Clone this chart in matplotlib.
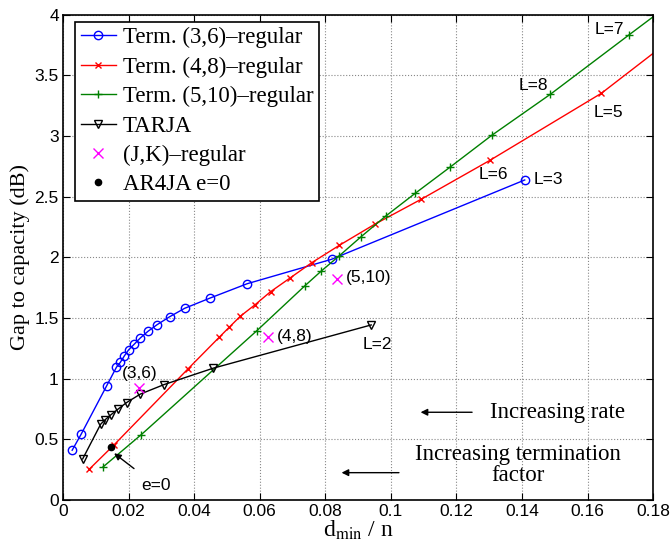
#!/usr/bin/env python3
"""Gap to capacity vs. normalized minimum distance for terminated LDPC ensembles."""

import matplotlib
matplotlib.use("Agg")
import matplotlib.pyplot as plt

# Terminated (3,6)-regular
x36 = [0.0028, 0.0055, 0.0133, 0.0163, 0.0175, 0.0187, 0.0200, 0.0218, 0.0236,
       0.0259, 0.0287, 0.0325, 0.0371, 0.0449, 0.0562, 0.0819, 0.1408]
y36 = [0.41, 0.54, 0.94, 1.094, 1.135, 1.187, 1.237, 1.286, 1.336,
       1.39, 1.445, 1.51, 1.58, 1.665, 1.783, 1.984, 2.638]

# Terminated (4,8)-regular (last point lies outside the axes)
x48 = [0.0080, 0.0155, 0.0381, 0.0476, 0.0507, 0.0541, 0.0586, 0.0633, 0.0691,
       0.0758, 0.0842, 0.0950, 0.1093, 0.1302, 0.1642, 0.2000]
y48 = [0.253, 0.452, 1.08, 1.34, 1.424, 1.515, 1.61, 1.717, 1.827,
       1.955, 2.098, 2.272, 2.48, 2.80, 3.353, 4.10]

# Terminated (5,10)-regular (last point lies outside the axes)
x510 = [0.0122, 0.0239, 0.0591, 0.0737, 0.0788, 0.0843, 0.0909, 0.0984, 0.1074,
        0.1181, 0.1308, 0.1486, 0.1726, 0.2000]
y510 = [0.272, 0.539, 1.395, 1.764, 1.888, 2.014, 2.17, 2.34, 2.528,
        2.745, 3.007, 3.344, 3.834, 4.39]

# TARJA
xtarja = [0.0060, 0.0115, 0.0128, 0.0146, 0.0168, 0.0194, 0.0236, 0.0308, 0.0459, 0.0940]
ytarja = [0.338, 0.625, 0.66, 0.702, 0.749, 0.803, 0.873, 0.951, 1.087, 1.443]

# (J,K)-regular block codes
xjk = [0.0232, 0.0626, 0.0836]
yjk = [0.92, 1.341, 1.82]
jk_labels = ["(3,6)", "(4,8)", "(5,10)"]

# AR4JA e=0
xar4ja = [0.0146]
yar4ja = [0.434]

plt.rcParams["mathtext.fontset"] = "stix"
serif = "Liberation Serif"
sans = "Liberation Sans"

fig = plt.figure(figsize=(6.70, 5.47), dpi=100)
ax = fig.add_axes([0.094, 0.086, 0.881, 0.887])

ax.plot(x36, y36, color="blue", marker="o", markersize=6, markerfacecolor="none",
        linewidth=1, label="Term. (3,6)\u2013regular")
ax.plot(x48, y48, color="red", marker="x", markersize=4.5, linewidth=1,
        label="Term. (4,8)\u2013regular")
ax.plot(x510, y510, color="green", marker="+", markersize=6, linewidth=1,
        label="Term. (5,10)\u2013regular")
ax.plot(xtarja, ytarja, color="black", marker="v", markersize=6, markerfacecolor="none",
        linewidth=1, label="TARJA")
ax.plot(xjk, yjk, linestyle="none", color="magenta", marker="x", markersize=7,
        label="(J,K)\u2013regular")
ax.plot(xar4ja, yar4ja, linestyle="none", color="black", marker="o", markersize=4.5,
        label="AR4JA e=0")

# labels next to points
lab_fs = 12.5
for xv, yv, t in zip(xjk[1:], yjk[1:], jk_labels[1:]):
    ax.text(xv + 0.0026, yv + 0.01, t, fontsize=lab_fs, family=sans, va="center", ha="left")
ax.text(xjk[0] + 0.0002, yjk[0] + 0.12, jk_labels[0], fontsize=lab_fs, family=sans,
        va="center", ha="center")

ax.text(0.0915, 1.278, "L=2", fontsize=lab_fs, family=sans, va="center")
ax.text(0.1436, 2.638, "L=3", fontsize=lab_fs, family=sans, va="center")
ax.text(0.1268, 2.680, "L=6", fontsize=lab_fs, family=sans, va="center")
ax.text(0.1618, 3.196, "L=5", fontsize=lab_fs, family=sans, va="center")
ax.text(0.1390, 3.420, "L=8", fontsize=lab_fs, family=sans, va="center")
ax.text(0.1622, 3.875, "L=7", fontsize=lab_fs, family=sans, va="center")

ax.annotate("e=0", xy=(0.0156, 0.385), xytext=(0.0284, 0.118), fontsize=lab_fs, family=sans,
            ha="center", va="center",
            arrowprops=dict(arrowstyle="-|>", color="black", lw=1,
                            shrinkA=8, shrinkB=0, mutation_scale=10))

ax.annotate("", xy=(0.1082, 0.723), xytext=(0.1256, 0.723),
            arrowprops=dict(arrowstyle="-|>", color="black", lw=1, mutation_scale=10))
ax.text(0.1303, 0.723, "Increasing rate", fontsize=16.5, family=serif, va="center", ha="left")
ax.annotate("", xy=(0.0841, 0.225), xytext=(0.1033, 0.225),
            arrowprops=dict(arrowstyle="-|>", color="black", lw=1, mutation_scale=10))
ax.text(0.1387, 0.29, "Increasing termination\nfactor", fontsize=16.5, family=serif,
        va="center", ha="center", linespacing=1.0)

ax.set_xlim(0, 0.18)
ax.set_ylim(0, 4)
ax.set_xticks([0, 0.02, 0.04, 0.06, 0.08, 0.1, 0.12, 0.14, 0.16, 0.18])
ax.set_xticklabels(["0", "0.02", "0.04", "0.06", "0.08", "0.1", "0.12", "0.14", "0.16", "0.18"])
ax.set_yticks([0, 0.5, 1, 1.5, 2, 2.5, 3, 3.5, 4])
ax.set_yticklabels(["0", "0.5", "1", "1.5", "2", "2.5", "3", "3.5", "4"])
ax.tick_params(direction="in", top=True, right=True, length=5, labelsize=12.5, pad=3)
for lab in ax.get_xticklabels() + ax.get_yticklabels():
    lab.set_family(sans)
for sp in ax.spines.values():
    sp.set_linewidth(1.2)
ax.grid(True, linestyle=":", color="#888888", linewidth=0.8)

ax.set_xlabel(r"d$_{\mathrm{min}}$ / n", fontsize=17, family=serif, labelpad=0)
ax.set_ylabel("Gap to capacity (dB)", fontsize=16, family=serif, labelpad=3)

leg = ax.legend(loc="upper left", bbox_to_anchor=(0.02, 0.986), borderaxespad=0,
                prop={"family": serif, "size": 16.5}, fancybox=False,
                edgecolor="black", framealpha=1, handlelength=1.55,
                labelspacing=0.36, borderpad=0.25, handletextpad=0.3)
leg.get_frame().set_linewidth(1.2)

plt.savefig("out.png", dpi=100)
